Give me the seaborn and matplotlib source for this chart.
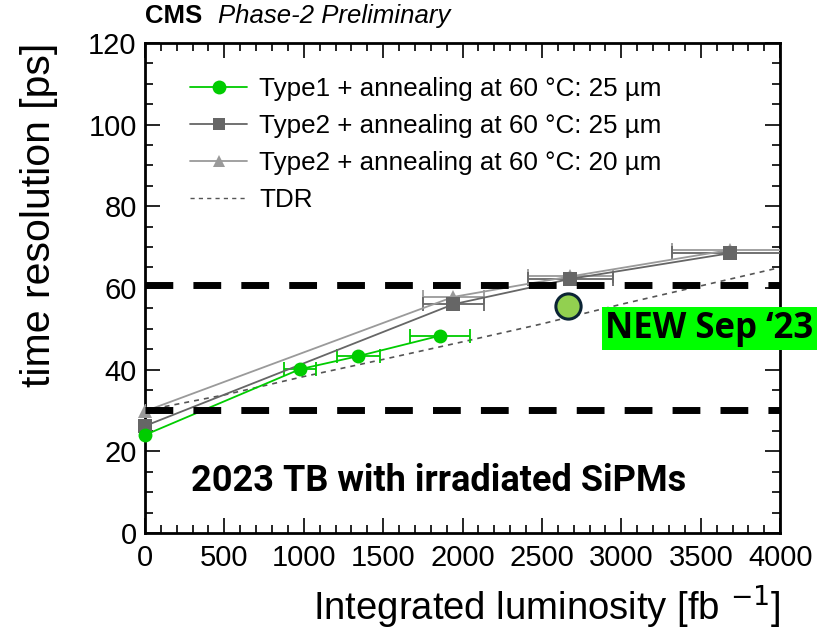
import matplotlib
matplotlib.use("Agg")
import matplotlib.pyplot as plt
from matplotlib.ticker import MultipleLocator
from matplotlib.lines import Line2D
import seaborn as sns
import pandas as pd

# Integrated luminosity [fb^-1] and time resolution [ps] per SiPM configuration
lumi_type1 = [0, 976, 1343, 1858]
res_type1 = [24.0, 40.1, 43.3, 48.3]
xerr_type1 = [0, 98, 134, 186]

lumi_type2_25 = [0, 1942, 2677, 3685]
res_type2_25 = [26.2, 56.0, 62.2, 68.5]
xerr_type2_25 = [0, 194, 268, 368]

lumi_type2_20 = [0, 1942, 2677, 3685]
res_type2_20 = [29.8, 57.8, 62.8, 69.3]
xerr_type2_20 = [0, 194, 268, 368]

# TDR expectation
lumi_tdr = [0, 500, 1000, 1500, 2000, 2500, 3000, 3500, 4000]
res_tdr = [30.0, 33.8, 38.3, 42.5, 46.8, 51.2, 56.0, 60.5, 65.0]

# New measurement (Sep 2023)
lumi_new = [2667]
res_new = [55.6]

# Reference levels
ref_levels = [30.0, 60.7]

labels = [
    "Type1 + annealing at 60 \u00b0C: 25 \u00b5m",
    "Type2 + annealing at 60 \u00b0C: 25 \u00b5m",
    "Type2 + annealing at 60 \u00b0C: 20 \u00b5m",
    "TDR",
]

sns.set_theme(style="white")
plt.rcParams["font.family"] = ["Liberation Sans", "DejaVu Sans"]
plt.rcParams["text.color"] = "black"
plt.rcParams["axes.labelcolor"] = "black"

fig = plt.figure(figsize=(8.38, 6.3), dpi=100)
ax = fig.add_axes([0.173, 0.154, 0.758, 0.778])

c_t1 = "#00cc00"
c_t25 = "#666666"
c_t20 = "#9a9a9a"
c_tdr = "#555555"

# TDR curve
sns.lineplot(x=lumi_tdr, y=res_tdr, ax=ax, color=c_tdr, lw=1.2,
             linestyle=(0, (3, 3)), zorder=2)

series = [
    (lumi_type2_20, res_type2_20, xerr_type2_20, c_t20, "^"),
    (lumi_type2_25, res_type2_25, xerr_type2_25, c_t25, "s"),
    (lumi_type1, res_type1, xerr_type1, c_t1, "o"),
]
for x, y, xe, col, mk in series:
    df = pd.DataFrame({"lumi": x, "res": y})
    sns.lineplot(data=df, x="lumi", y="res", ax=ax, color=col, lw=1.3,
                 marker=mk, markersize=10, markeredgewidth=0, zorder=4)
    # markers sitting on the y axis are drawn whole
    ax.lines[-1].set_clip_on(False)
    ax.errorbar(x, y, xerr=xe, fmt="none", ecolor=col, elinewidth=1.3,
                capsize=5, capthick=1.3, zorder=3)

# Reference levels
for lvl in ref_levels:
    ax.axhline(lvl, color="black", lw=5, linestyle=(0, (4.0, 2.9)), zorder=5)

# New point
sns.scatterplot(x=lumi_new, y=res_new, ax=ax, s=330, color="#92d050",
                edgecolor="#0b2435", linewidth=2.2, zorder=6)

ax.set_xlim(0, 4000)
ax.set_ylim(0, 120)
ax.xaxis.set_major_locator(MultipleLocator(500))
ax.xaxis.set_minor_locator(MultipleLocator(100))
ax.yaxis.set_major_locator(MultipleLocator(20))
ax.yaxis.set_minor_locator(MultipleLocator(5))
ax.tick_params(which="both", direction="in", top=True, right=True,
               bottom=True, left=True, colors="black", labelsize=21,
               width=1.2)
ax.tick_params(which="major", length=11)
ax.tick_params(which="minor", length=6)
ax.tick_params(axis="x", pad=8)
ax.tick_params(axis="y", pad=6)
for sp in ax.spines.values():
    sp.set_color("black")
    sp.set_linewidth(2)

ax.set_xlabel("Integrated luminosity [fb $^{-1}$]", fontsize=27.5, loc="right",
              labelpad=8)
ax.set_ylabel("time resolution [ps]", fontsize=29.5, loc="top", labelpad=22)

handles = [
    Line2D([], [], color=c_t1, marker="o", markersize=10, lw=1.3, markeredgewidth=0),
    Line2D([], [], color=c_t25, marker="s", markersize=9, lw=1.3, markeredgewidth=0),
    Line2D([], [], color=c_t20, marker="^", markersize=9, lw=1.3, markeredgewidth=0),
    Line2D([], [], color=c_tdr, lw=1.0, linestyle=(0, (3, 3))),
]
ax.legend(handles, labels, loc="upper left", bbox_to_anchor=(0.071, 0.93),
          frameon=False, fontsize=18.7, handlelength=2.2, handletextpad=0.45,
          labelspacing=0.5, borderpad=0, borderaxespad=0)

fig.text(0.173, 0.955, "CMS", fontsize=18.5, fontweight="bold", va="bottom")
fig.text(0.260, 0.955, "Phase-2 Preliminary", fontsize=18.5, style="italic",
         va="bottom")

ax.text(0.072, 0.107, "2023 TB with irradiated SiPMs", transform=ax.transAxes,
        fontsize=26, fontweight="bold", family=["Roboto", "DejaVu Sans"],
        va="center", ha="left", zorder=7)

fig.text(0.722, 0.478, "NEW Sep \u201823", fontsize=25, fontweight="bold",
         family=["Open Sans", "DejaVu Sans"], va="center", ha="left",
         bbox=dict(boxstyle="square,pad=0.1", facecolor="#00ff00",
                   edgecolor="none"), zorder=8)

fig.savefig("out.png", dpi=100)
